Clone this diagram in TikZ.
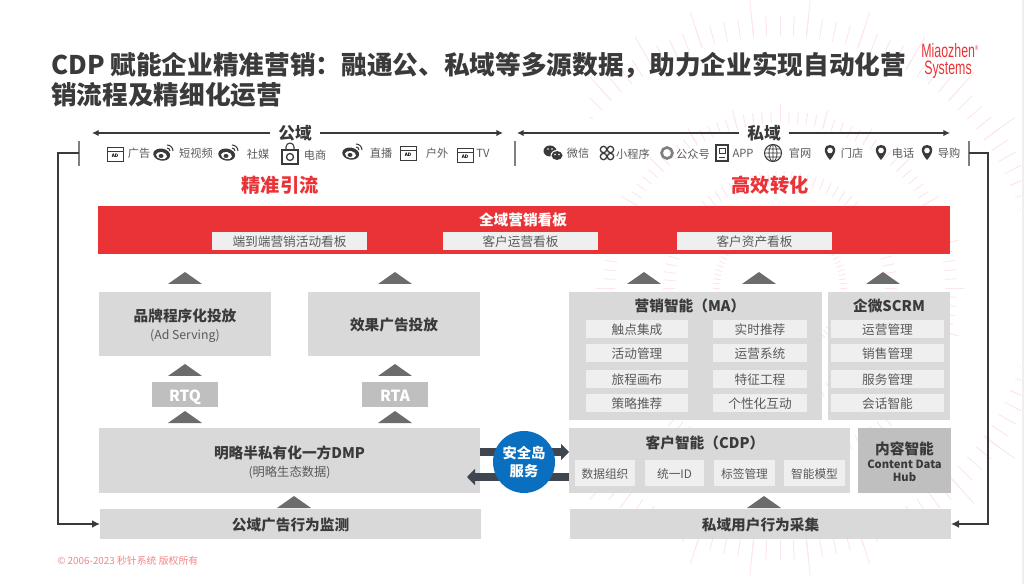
\documentclass[tikz,border=0pt]{standalone}
\usepackage{fontspec}
\setmainfont{Noto Sans CJK SC}
\newfontfamily\logofont{Liberation Sans}
\usetikzlibrary{arrows.meta}
\definecolor{redbar}{HTML}{E93336}
\definecolor{panelgray}{HTML}{D9D9D9}
\definecolor{itemgray}{HTML}{EFEFEF}
\definecolor{midgray}{HTML}{BFBFBF}
\definecolor{darktext}{HTML}{3A3A3A}
\definecolor{softtext}{HTML}{5A5A5A}
\definecolor{raypink}{HTML}{FCE6EA}
\definecolor{islandblue}{HTML}{0B6FBF}
\definecolor{slate}{HTML}{3F4650}
\tikzset{
sz/.style 2 args={minimum width=#1*0.75pt,minimum height=#2*0.75pt,inner sep=0pt,outer sep=0pt},
panel/.style={fill=panelgray,text=darktext,text height=10.5pt,text depth=1pt,font=\fontsize{11}{13}\selectfont\bfseries},
heading/.style={inner sep=0pt,text=darktext,font=\fontsize{11}{13}\selectfont\bfseries},
item/.style={fill=itemgray,text=softtext,text height=9.2pt,text depth=1pt,font=\fontsize{9.5}{11}\selectfont},
small/.style={text=softtext,font=\fontsize{8.4}{10}\selectfont,inner sep=0pt},
note/.style={text=softtext,font=\fontsize{9.2}{11}\selectfont,inner sep=0pt},
headline/.style={anchor=west,text=darktext,inner sep=0pt,font=\fontsize{19.25}{23}\selectfont\bfseries},
domainlabel/.style={text=darktext,inner sep=0pt,outer sep=6pt,font=\fontsize{12.5}{15}\selectfont\bfseries},
slogan/.style={text=redbar,inner sep=0pt,font=\fontsize{14.4}{17}\selectfont\bfseries},
logotext/.style={text=redbar,inner sep=0pt,xscale=0.64,transform shape,font=\fontsize{14.5}{15}\logofont},
gate/.style={fill=midgray,text=white,text height=11pt,text depth=1pt,font=\fontsize{11.5}{13}\selectfont\bfseries},
spanline/.style={draw=darktext,line width=1.5pt,-{Latex[length=5pt,width=5pt]}},
loopline/.style={draw=darktext,line width=1.3pt,-{Latex[length=6pt,width=6pt]}},
tick/.style={draw=gray,line width=0.8pt},
fatarrow/.style={draw=slate,line width=6pt,-{Triangle[length=6pt,width=12pt]}},
adicon/.pic={
\draw[darktext,line width=0.7pt,fill=white] (-8,-7) rectangle (8,7);
\draw[darktext,line width=0.7pt] (-8,-3) -- (8,-3);
\node[inner sep=0pt,font=\fontsize{3.5}{4}\selectfont\bfseries] at (0,2) {AD};
},
weiboicon/.pic={
\fill[darktext,rotate=-10] (-2,2) ellipse (8.5 and 6);
\fill[white,rotate=-10] (-2,3) ellipse (5.5 and 3.6);
\fill[darktext] (-3,3) ellipse (2.5 and 2);
\draw[darktext,line width=0.8pt] (3,-8) arc (-90:0:6);
\draw[darktext,line width=0.8pt] (3,-5) arc (-90:0:3);
},
bagicon/.pic={
\draw[darktext,line width=0.8pt] (-4,-3) -- (-4,-6) arc (180:360:4) -- (4,-3);
\draw[darktext,line width=1pt,fill=white] (-8,-3) rectangle (8,11);
\draw[darktext,line width=1pt] (0,4) circle (3.5);
},
pinicon/.pic={
\fill[darktext] (0,8) .. controls (-8,-1) and (-6,-7) .. (0,-7) .. controls (6,-7) and (8,-1) .. (0,8);
\fill[white] (0,-1.5) circle (2.8);
},
wechaticon/.pic={
\fill[darktext] (-3,-2) ellipse (6.5 and 5.5);
\fill[white] (4,2.5) ellipse (6.5 and 5.5);
\fill[darktext] (4,2.5) ellipse (5.5 and 4.5);
\fill[white] (-5,-4) circle (0.9) (-1,-4) circle (0.9) (2,1.5) circle (0.8) (6,1.5) circle (0.8);
},
miniicon/.pic={
\foreach \a/\b in {-3.5/-3.5,3.5/-3.5,-3.5/3.5,3.5/3.5}{\draw[darktext,line width=1pt] (\a,\b) circle (3.2);}
},
ringicon/.pic={
\draw[gray,line width=2pt] (0,0) circle (5.5);
},
appicon/.pic={
\draw[darktext,line width=1pt,fill=white] (-6,-8) rectangle (6,8);
\draw[darktext,line width=0.7pt] (-3,-5) rectangle (3,0);
\draw[darktext,line width=0.7pt] (-3,4) -- (3,4);
},
globeicon/.pic={
\draw[darktext,line width=0.8pt] (0,0) circle (8.5);
\draw[darktext,line width=0.6pt] (0,0) ellipse (4 and 8.5) (0,-8.5) -- (0,8.5) (-8.5,0) -- (8.5,0) (-7.5,-4) -- (7.5,-4) (-7.5,4) -- (7.5,4);
}
}
\begin{document}
\begin{tikzpicture}[x=0.75pt,y=-0.75pt]
\useasboundingbox (0,0) rectangle (1024,584);
\begin{scope}
\clip (590,0) rectangle (1021,584);
\foreach \r/\l/\st in {60/7/4,105/12/4,165/12/3,165/19/15,252/20/3,252/38/12}{
\foreach \a in {0,\st,...,359}{
\draw[raypink,line width=0.7pt] (780,288) +(\a:\r) -- +(\a:\r+\l);
}
}
\end{scope}
\fill[itemgray] (1022,0) rectangle (1024,584);

\node[headline] (title1) at (51,65) {CDP 赋能企业精准营销：融通公、私域等多源数据，助力企业实现自动化营};
\node[headline] (title2) at (51,95) {销流程及精细化运营};
\node[logotext] (logo1) at (950,51) {Miaozhen\textsuperscript{\tiny ®}};
\node[logotext] (logo2) at (948,70) {Systems};

\node[domainlabel] (public) at (295,133) {公域};
\node[domainlabel] (private) at (764,133) {私域};
\coordinate (publicL) at (92,133);
\coordinate (publicR) at (503,133);
\coordinate (privateL) at (517,133);
\coordinate (privateR) at (950,133);
\draw[spanline] (public) -- (publicL);
\draw[spanline] (public) -- (publicR);
\draw[spanline] (private) -- (privateL);
\draw[spanline] (private) -- (privateR);

\foreach \x in {79,515,969}{
\draw[tick] (\x,141) -- (\x,166);
}
\foreach \n/\x/\y/\t in {a/139/153/广告,b/196/153/短视频,c/258/154/社媒,d/315/155/电商,e/381/153/直播,f/437/153/户外,g/483/153/TV,h/578/153/微信,i/633/154/小程序,j/693/154/公众号,k/743/153/APP,l/800/153/官网,m/852/153/门店,n/903/153/电话,o/949/153/导购}{
\node[small] (chan\n) at (\x,\y) {\t};
}
\foreach \x/\y in {115/154,408/153,465/155}{
\pic at (\x,\y) {adicon};
}
\foreach \x/\y in {164/153,229/153,353/152}{
\pic at (\x,\y) {weiboicon};
}
\pic at (290,153) {bagicon};
\pic at (553,153) {wechaticon};
\pic at (607,153) {miniicon};
\pic at (667,153) {ringicon};
\pic at (722,153) {appicon};
\pic at (773,153) {globeicon};
\foreach \x in {830,881,927}{
\pic at (\x,152) {pinicon};
}

\node[slogan] (sloganL) at (280,185) {精准引流};
\node[slogan] (sloganR) at (770,185) {高效转化};

\node[fill=redbar,sz={852}{48}] (board) at (524,230) {};
\node[heading,text=white] (boardtitle) at (523,220) {全域营销看板};
\foreach \n/\x/\t in {a/289.5/端到端营销活动看板,b/520.5/客户运营看板,c/754.5/客户资产看板}{
\node[item,sz={155}{18}] (board\n) at (\x,241) {\t};
}

\foreach \x/\y in {185/272,395/272,644/272,759/272,883/272,185/364,395/364,185/411,395/411,294/496,764/496}{
\fill[gray!85!black] (\x-17,\y+12) -- (\x,\y) -- (\x+17,\y+12) -- cycle;
}

\node[panel,sz={172}{64}] (brand) at (185,324) {};
\node[heading] (brandname) at (185,316) {品牌程序化投放};
\node[note] (brandsub) at (185,336) {(Ad Serving)};
\node[panel,sz={172}{64}] (effect) at (394,324) {效果广告投放};
\node[gate,sz={66}{25}] (rtq) at (185,394.5) {RTQ};
\node[gate,sz={66}{25}] (rta) at (395,394.5) {RTA};

\node[panel,sz={381}{65}] (dmp) at (289.5,460.5) {};
\node[heading] (dmpname) at (289.5,452.5) {明略半私有化一方DMP};
\node[note] (dmpsub) at (289.5,472.5) {(明略生态数据)};
\node[panel,sz={381}{30}] (monitor) at (290.5,524) {公域广告行为监测};

\node[panel,sz={253}{128}] (ma) at (695.5,356) {};
\node[heading] (maname) at (690,306) {营销智能（MA）};
\node[panel,sz={122}{128}] (scrm) at (889,356) {};
\node[heading] (scrmname) at (889,306) {企微SCRM};
\foreach \n/\y/\ta/\tb/\tc in {1/329/触点集成/实时推荐/运营管理,2/353/活动管理/运营系统/销售管理,3/379/旅程画布/特征工程/服务管理,4/403/策略推荐/个性化互动/会话智能}{
\node[item,sz={102}{18.5}] (maL\n) at (637,\y) {\ta};
\node[item,sz={94}{18.5}] (maR\n) at (760,\y) {\tb};
\node[item,sz={113}{18.5}] (scrm\n) at (887.5,\y) {\tc};
}

\node[panel,sz={281}{65}] (cdp) at (709.5,460.5) {};
\node[heading] (cdpname) at (705,442.5) {客户智能（CDP）};
\foreach \n/\x/\w/\t in {a/605/60/数据组织,b/674.5/59/统一ID,c/744.5/61/标签管理,d/814.5/61/智能模型}{
\node[item,sz={\w}{26},font=\fontsize{8.8}{11}\selectfont] (cdp\n) at (\x,473) {\t};
}
\node[fill=midgray,sz={93}{65}] (content) at (904.5,460.5) {};
\node[inner sep=0pt,align=center,text=darktext,font=\fontsize{8.4}{10}\selectfont\bfseries] (contentname) at (904.5,462) {{\fontsize{11}{13}\selectfont 内容智能}\\Content Data\\Hub};
\node[panel,sz={381}{30}] (collect) at (760.5,524) {私域用户行为采集};

\coordinate (tickL) at (79,153);
\coordinate (tickR) at (969,153);
\draw[loopline] (tickL) -- (58,153) |- (monitor.west);
\draw[loopline] (tickR) -- (988,153) |- (collect.east);

\coordinate (outA) at (480,452);
\coordinate (outB) at (569,452);
\coordinate (backA) at (569,477);
\coordinate (backB) at (467,477);
\draw[fatarrow] (outA) -- (outB);
\draw[fatarrow] (backA) -- (backB);
\node[circle,fill=islandblue,text=white,minimum size=62*0.75pt,inner sep=0pt,align=center,font=\fontsize{10.7}{14}\selectfont\bfseries] (island) at (524,462) {安全岛\\服务};

\node[anchor=west,inner sep=0pt,text=redbar!60,font=\fontsize{7.4}{9}\selectfont] (copyright) at (57,561) {© 2006-2023 秒针系统 版权所有};
\end{tikzpicture}
\end{document}
